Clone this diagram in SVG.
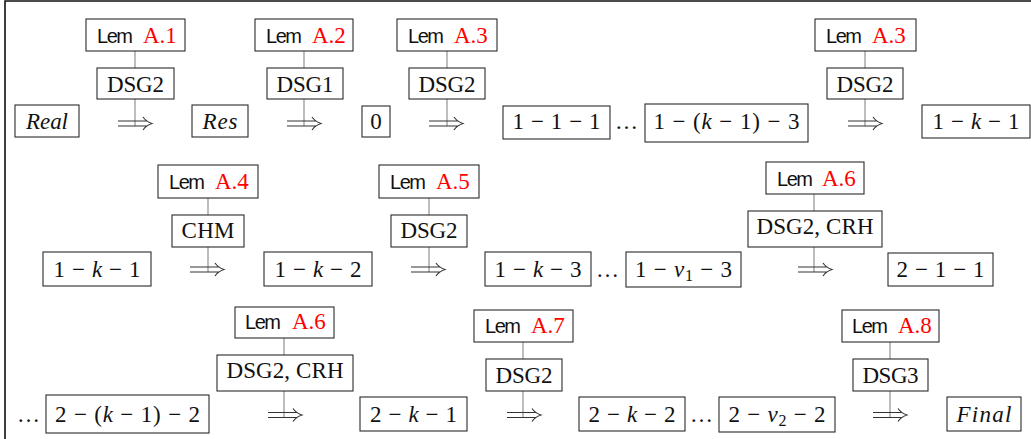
<svg xmlns="http://www.w3.org/2000/svg" xmlns:xlink="http://www.w3.org/1999/xlink" width="1031" height="439" viewBox="0 0 1031 439">
<style>
.b{fill:#fff;stroke:#2a2a2a;stroke-width:1.1}
.m{font-family:"Liberation Serif",serif;font-size:23px;fill:#111;text-anchor:middle}
.d{font-family:"Liberation Serif",serif;font-size:23px;fill:#111}
.i{font-style:italic}
.sub{font-size:16px}
.sf{font-family:"Liberation Sans",sans-serif;font-size:20px;fill:#111}
.r{font-family:"Liberation Serif",serif;font-size:23px;fill:#ff0000}
.c{stroke:#888;stroke-width:1.1;fill:none}
.ar{stroke:#333;stroke-width:1.1;fill:none}
.fr{stroke:#111;stroke-width:1.6;fill:none}
</style>
<defs>
<g id="arr"><path class="ar" d="M0,-2.5H29M0,2.5H29M25,-6.5Q28,-2 34,0Q28,2 25,6.5"/></g>
</defs>
<path class="fr" d="M5,439V1H1031"/>
<g id="connectors">
<path class="c" d="M135,51V68M135,99V126M304,51V68M304,99V126M447,51V68M447,99V126M865,51V68M865,99V126"/>
<path class="c" d="M208,198V215M208,247V272M429,198V215M429,247V272M814,194V211M814,247V272"/>
<path class="c" d="M284,338V355M284,391V417.5M523,342V359M523,391V417.5M890,342V359M890,391V417.5"/>
<use xlink:href="#arr" x="118" y="123.5"/><use xlink:href="#arr" x="287" y="123.5"/><use xlink:href="#arr" x="429" y="123.5"/><use xlink:href="#arr" x="848" y="123.5"/>
<use xlink:href="#arr" x="190" y="269.5"/><use xlink:href="#arr" x="411" y="269.5"/><use xlink:href="#arr" x="798" y="269.5"/>
<use xlink:href="#arr" x="268" y="415"/><use xlink:href="#arr" x="507" y="415"/><use xlink:href="#arr" x="873" y="415"/>
</g>
<!-- Row 1 -->
<g id="lemA1"><rect class="b" x="86" y="19" width="99" height="32"/><text class="sf" x="97" y="43" textLength="36">Lem</text><text class="r" x="143" y="43">A.1</text></g>
<g id="dsg2a"><rect class="b" x="97" y="68" width="77" height="31"/><text class="m" x="135.5" y="92" textLength="57">DSG2</text></g>
<g id="lemA2"><rect class="b" x="255" y="19" width="98" height="32"/><text class="sf" x="266" y="43" textLength="36">Lem</text><text class="r" x="312" y="43">A.2</text></g>
<g id="dsg1"><rect class="b" x="267" y="68" width="76" height="31"/><text class="m" x="305" y="92" textLength="57">DSG1</text></g>
<g id="lemA3"><rect class="b" x="397" y="19" width="100" height="32"/><text class="sf" x="408" y="43" textLength="36">Lem</text><text class="r" x="454" y="43">A.3</text></g>
<g id="dsg2b"><rect class="b" x="409" y="68" width="76" height="31"/><text class="m" x="447" y="92" textLength="57">DSG2</text></g>
<g id="lemA3b"><rect class="b" x="815" y="19" width="101" height="32"/><text class="sf" x="826" y="43" textLength="36">Lem</text><text class="r" x="872" y="43">A.3</text></g>
<g id="dsg2c"><rect class="b" x="827" y="68" width="76" height="31"/><text class="m" x="865" y="92" textLength="57">DSG2</text></g>
<g id="real"><rect class="b" x="15" y="105" width="64" height="32"/><text class="m i" x="47" y="129" textLength="42">Real</text></g>
<g id="res"><rect class="b" x="192" y="105" width="56" height="32"/><text class="m i" x="220" y="129" textLength="35">Res</text></g>
<g id="zero"><rect class="b" x="362" y="106" width="28" height="31"/><text class="m" x="376" y="129">0</text></g>
<g id="n111"><rect class="b" x="503" y="106" width="107" height="33"/><text class="m" x="556.5" y="129" textLength="88">1 − 1 − 1</text></g>
<text class="d" x="615" y="129">…</text>
<g id="n1k13"><rect class="b" x="645" y="104" width="163" height="38"/><text class="m" x="726.5" y="129" textLength="146">1 − (<tspan class="i">k</tspan> − 1) − 3</text></g>
<g id="n1k1a"><rect class="b" x="922" y="105" width="108" height="33"/><text class="m" x="976" y="129" textLength="87">1 − <tspan class="i">k</tspan> − 1</text></g>
<!-- Row 2 -->
<g id="lemA4"><rect class="b" x="158" y="165" width="100" height="33"/><text class="sf" x="169" y="189" textLength="36">Lem</text><text class="r" x="215" y="189">A.4</text></g>
<g id="chm"><rect class="b" x="172" y="215" width="72" height="32"/><text class="m" x="208" y="238" textLength="53">CHM</text></g>
<g id="lemA5"><rect class="b" x="379" y="165" width="100" height="33"/><text class="sf" x="390" y="189" textLength="36">Lem</text><text class="r" x="436" y="189">A.5</text></g>
<g id="dsg2d"><rect class="b" x="391" y="215" width="76" height="32"/><text class="m" x="429" y="238" textLength="57">DSG2</text></g>
<g id="lemA6"><rect class="b" x="766" y="162" width="98" height="32"/><text class="sf" x="777" y="186" textLength="36">Lem</text><text class="r" x="822" y="186">A.6</text></g>
<g id="dsgcrh"><rect class="b" x="748" y="211" width="134" height="36"/><text class="m" x="815" y="234" textLength="117">DSG2, CRH</text></g>
<g id="n1k1b"><rect class="b" x="43" y="252" width="108" height="34"/><text class="m" x="97" y="277" textLength="87">1 − <tspan class="i">k</tspan> − 1</text></g>
<g id="n1k2"><rect class="b" x="264" y="252" width="108" height="34"/><text class="m" x="318" y="277" textLength="87">1 − <tspan class="i">k</tspan> − 2</text></g>
<g id="n1k3"><rect class="b" x="485" y="252" width="106" height="34"/><text class="m" x="538" y="277" textLength="87">1 − <tspan class="i">k</tspan> − 3</text></g>
<text class="d" x="596" y="277">…</text>
<g id="n1nu3"><rect class="b" x="626" y="252" width="115" height="35"/><text class="m" x="683.5" y="277" textLength="97">1 − <tspan class="i">ν</tspan><tspan class="sub" dy="4">1</tspan><tspan dy="-4"> − 3</tspan></text></g>
<g id="n211"><rect class="b" x="888" y="253" width="105" height="33"/><text class="m" x="940.5" y="277" textLength="88">2 − 1 − 1</text></g>
<!-- Row 3 -->
<g id="lemA6b"><rect class="b" x="235" y="307" width="99" height="31"/><text class="sf" x="245" y="329" textLength="36">Lem</text><text class="r" x="292" y="329">A.6</text></g>
<g id="dsgcrhb"><rect class="b" x="217" y="355" width="136" height="36"/><text class="m" x="285" y="378" textLength="117">DSG2, CRH</text></g>
<g id="lemA7"><rect class="b" x="474" y="310" width="99" height="32"/><text class="sf" x="485" y="333" textLength="36">Lem</text><text class="r" x="531" y="333">A.7</text></g>
<g id="dsg2e"><rect class="b" x="486" y="359" width="76" height="32"/><text class="m" x="524" y="383" textLength="57">DSG2</text></g>
<g id="lemA8"><rect class="b" x="842" y="310" width="97" height="32"/><text class="sf" x="852" y="333" textLength="36">Lem</text><text class="r" x="898" y="333">A.8</text></g>
<g id="dsg3"><rect class="b" x="853" y="359" width="75" height="32"/><text class="m" x="890.5" y="383" textLength="56">DSG3</text></g>
<text class="d" x="17" y="422">…</text>
<g id="n2k12"><rect class="b" x="46" y="395" width="163" height="38"/><text class="m" x="127.5" y="422" textLength="145">2 − (<tspan class="i">k</tspan> − 1) − 2</text></g>
<g id="n2k1"><rect class="b" x="360" y="397" width="107" height="34"/><text class="m" x="413.5" y="422" textLength="87">2 − <tspan class="i">k</tspan> − 1</text></g>
<g id="n2k2"><rect class="b" x="579" y="397" width="106" height="34"/><text class="m" x="632" y="422" textLength="87">2 − <tspan class="i">k</tspan> − 2</text></g>
<text class="d" x="690" y="422">…</text>
<g id="n2nu2"><rect class="b" x="719" y="397" width="116" height="35"/><text class="m" x="777" y="422" textLength="97">2 − <tspan class="i">ν</tspan><tspan class="sub" dy="4">2</tspan><tspan dy="-4"> − 2</tspan></text></g>
<g id="final"><rect class="b" x="947" y="397" width="74" height="34"/><text class="m i" x="984" y="422" textLength="55">Final</text></g>
</svg>
